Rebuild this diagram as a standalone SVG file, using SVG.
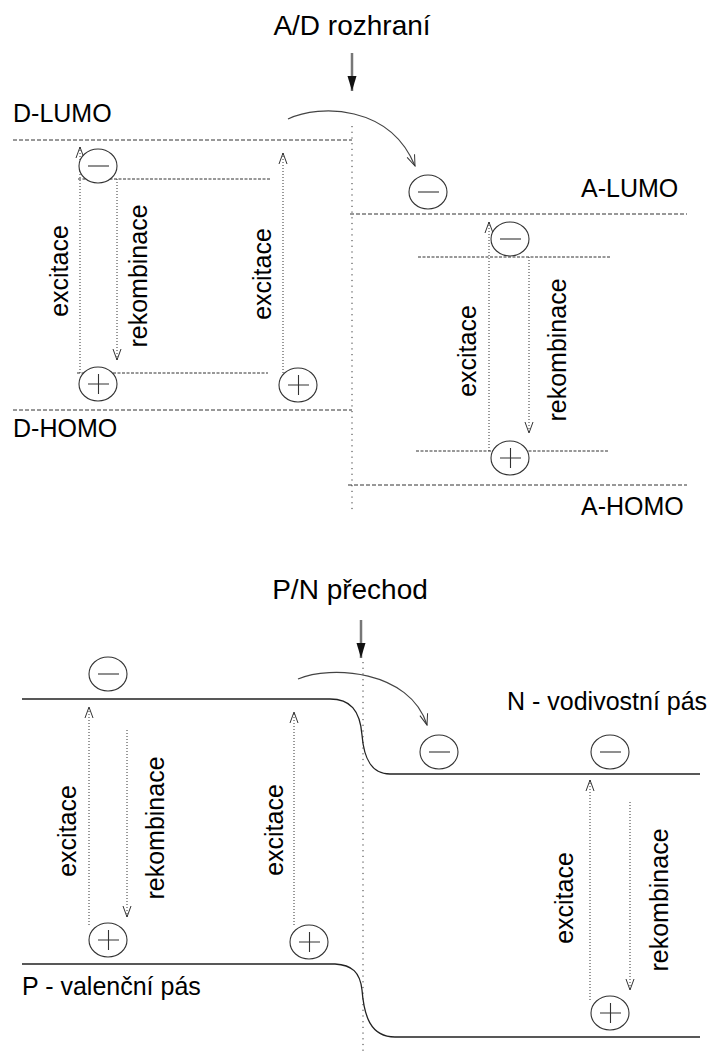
<svg xmlns="http://www.w3.org/2000/svg" width="709" height="1059" viewBox="0 0 709 1059">
<style>
text{font-family:"Liberation Sans",Arial,sans-serif;fill:#000}
.t{font-size:28px}
.l{font-size:25px}
.r{font-size:25px;text-anchor:middle}
.lev{stroke:#333;stroke-width:1;stroke-dasharray:4 2;fill:none}
.sub{stroke:#333;stroke-width:1;stroke-dasharray:3 1.5;fill:none}
.vd{stroke:#333;stroke-width:1;stroke-dasharray:1.2 4.5;fill:none}
.ar{stroke:#333;stroke-width:1;stroke-dasharray:1 2;fill:none;marker-end:url(#v)}
.band{stroke:#222;stroke-width:1.3;fill:none}
.cur{stroke:#444;stroke-width:1.2;fill:none;marker-end:url(#v)}
.c ellipse{fill:#fff;stroke:#333;stroke-width:1.1}
.c path{stroke:#333;stroke-width:1.1;fill:none}
</style>
<defs>
<marker id="v" viewBox="-1 -6 13 12" refX="11" refY="0" markerWidth="13" markerHeight="12" markerUnits="userSpaceOnUse" orient="auto">
<path d="M0,-4 L11,0 L0,4" fill="none" stroke="#333" stroke-width="1"/>
</marker>
<marker id="f" viewBox="0 -5 16 10" refX="15" refY="0" markerWidth="16" markerHeight="10" markerUnits="userSpaceOnUse" orient="auto">
<path d="M0,-4.5 L15,0 L0,4.5 Z" fill="#111"/>
</marker>
</defs>

<g id="titles">
<text class="t" x="352" y="35" text-anchor="middle">A/D rozhraní</text>
<text class="t" x="350" y="599" text-anchor="middle">P/N přechod</text>
</g>

<g id="labels">
<text class="l" x="13" y="122">D-LUMO</text>
<text class="l" x="13" y="437">D-HOMO</text>
<text class="l" x="581" y="197">A-LUMO</text>
<text class="l" x="581" y="515">A-HOMO</text>
<text class="l" x="507" y="710">N - vodivostní pás</text>
<text class="l" x="22" y="995">P - valenční pás</text>
</g>

<g id="levels">
<line class="lev" x1="13" y1="140" x2="352" y2="140"/>
<line class="lev" x1="13" y1="410" x2="352" y2="410"/>
<line class="lev" x1="350" y1="214" x2="687" y2="214"/>
<line class="lev" x1="348" y1="485" x2="687" y2="485"/>
<line class="sub" x1="78" y1="179" x2="270" y2="179"/>
<line class="sub" x1="77" y1="373" x2="268" y2="373"/>
<line class="sub" x1="418" y1="257" x2="610" y2="257"/>
<line class="sub" x1="416" y1="451" x2="608" y2="451"/>
<line class="vd" x1="352" y1="126" x2="352" y2="512"/>
<line class="vd" x1="363" y1="662" x2="363" y2="1052"/>
<path class="band" d="M22,699 H330 C350,699 360,710 362,735 C364,760 372,774 390,774 H700"/>
<path class="band" d="M22,964 H335 C352,965 360,972 362,990 C364,1015 370,1037 395,1037 H700"/>
</g>

<g id="connectors">
<line x1="352" y1="53" x2="352" y2="91" stroke="#777" stroke-width="2.5" marker-end="url(#f)"/>
<line x1="361" y1="620" x2="361" y2="658" stroke="#777" stroke-width="2.5" marker-end="url(#f)"/>
<path class="cur" d="M288,119 C320,104 390,105 415,166"/>
<path class="cur" d="M298,679 C330,665 410,670 427,725"/>
<line class="ar" x1="80" y1="373" x2="80" y2="147"/>
<line class="ar" x1="117" y1="179" x2="117" y2="360"/>
<line class="ar" x1="283" y1="373" x2="283" y2="153"/>
<line class="ar" x1="489" y1="451" x2="489" y2="222"/>
<line class="ar" x1="529" y1="257" x2="529" y2="433"/>
<line class="ar" x1="89" y1="925" x2="89" y2="707"/>
<line class="ar" x1="127" y1="730" x2="127" y2="917"/>
<line class="ar" x1="294" y1="925" x2="294" y2="712"/>
<line class="ar" x1="590" y1="1000" x2="590" y2="780"/>
<line class="ar" x1="630" y1="802" x2="630" y2="990"/>
</g>

<g id="vlabels">
<text class="r" transform="rotate(-90 68 271)" x="68" y="271">excitace</text>
<text class="r" transform="rotate(-90 147 276)" x="147" y="276">rekombinace</text>
<text class="r" transform="rotate(-90 271 274)" x="271" y="274">excitace</text>
<text class="r" transform="rotate(-90 476 351)" x="476" y="351">excitace</text>
<text class="r" transform="rotate(-90 566 350)" x="566" y="350">rekombinace</text>
<text class="r" transform="rotate(-90 76 831)" x="76" y="831">excitace</text>
<text class="r" transform="rotate(-90 164 828)" x="164" y="828">rekombinace</text>
<text class="r" transform="rotate(-90 283 830)" x="283" y="830">excitace</text>
<text class="r" transform="rotate(-90 573 898)" x="573" y="898">excitace</text>
<text class="r" transform="rotate(-90 668 900)" x="668" y="900">rekombinace</text>
</g>

<g id="e1" class="c"><ellipse cx="98" cy="166" rx="19" ry="17"/><path d="M88,166 H109"/></g>
<g id="h1" class="c"><ellipse cx="98" cy="384" rx="19" ry="17"/><path d="M88,384 H109 M98.5,374 V394"/></g>
<g id="h2" class="c"><ellipse cx="298" cy="385" rx="19" ry="17"/><path d="M288,385 H309 M298.5,375 V395"/></g>
<g id="e2" class="c"><ellipse cx="428" cy="192" rx="19" ry="17"/><path d="M418,192 H439"/></g>
<g id="e3" class="c"><ellipse cx="510" cy="239" rx="19" ry="17"/><path d="M500,239 H521"/></g>
<g id="h3" class="c"><ellipse cx="510" cy="458" rx="19" ry="17"/><path d="M500,458 H521 M510.5,448 V468"/></g>
<g id="e4" class="c"><ellipse cx="108" cy="674" rx="19" ry="17"/><path d="M98,674 H119"/></g>
<g id="h4" class="c"><ellipse cx="108" cy="940" rx="19" ry="17"/><path d="M98,940 H119 M108.5,930 V950"/></g>
<g id="h5" class="c"><ellipse cx="309" cy="942" rx="19" ry="17"/><path d="M299,942 H320 M309.5,932 V952"/></g>
<g id="e5" class="c"><ellipse cx="439" cy="752" rx="19" ry="17"/><path d="M429,752 H450"/></g>
<g id="e6" class="c"><ellipse cx="610" cy="752" rx="19" ry="17"/><path d="M600,752 H621"/></g>
<g id="h6" class="c"><ellipse cx="610" cy="1013" rx="19" ry="17"/><path d="M600,1013 H621 M610.5,1003 V1023"/></g>
</svg>
